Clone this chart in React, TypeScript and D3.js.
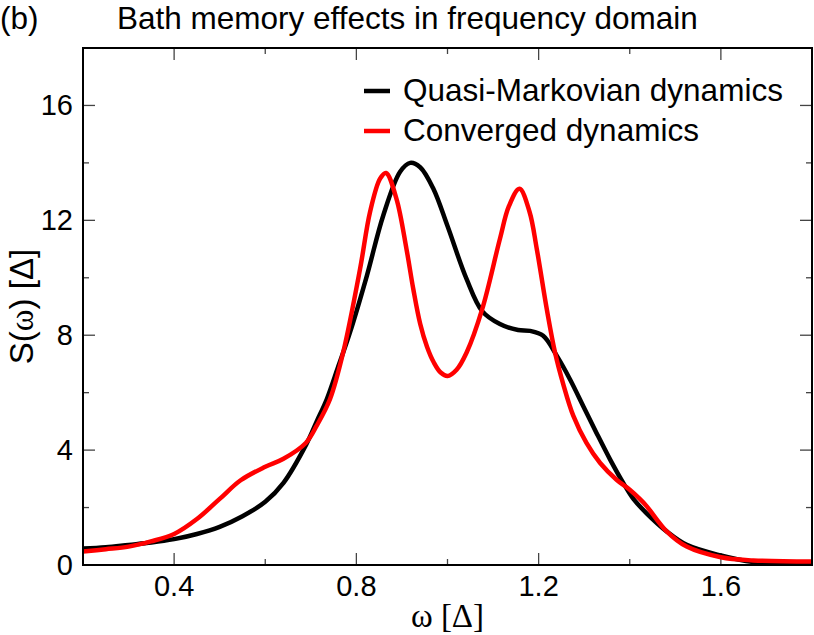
import { useEffect, useRef } from "react";
import * as d3 from "d3";

// omega [Delta], S(omega) [Delta]
const quasiOmega = [0.2, 0.25, 0.3, 0.35, 0.4, 0.45, 0.5, 0.55, 0.6, 0.64, 0.69, 0.713, 0.735, 0.76, 0.786, 0.823, 0.859, 0.896, 0.918, 0.94, 0.969, 1.0, 1.042, 1.076, 1.115, 1.155, 1.181, 1.21, 1.24, 1.269, 1.298, 1.327, 1.357, 1.386, 1.408, 1.437, 1.481, 1.525, 1.6, 1.671, 1.73, 1.8];
const quasiS = [0.57, 0.62, 0.7, 0.78, 0.9, 1.08, 1.33, 1.7, 2.2, 2.86, 4.2, 5.0, 5.77, 6.9, 8.1, 10.07, 12.17, 13.69, 14.0, 13.85, 13.1, 11.8, 9.95, 8.84, 8.39, 8.18, 8.15, 7.98, 7.28, 6.46, 5.53, 4.6, 3.67, 2.85, 2.3, 1.8, 1.17, 0.7, 0.33, 0.1, 0.04, 0.02];

const convOmega = [0.2, 0.25, 0.3, 0.349, 0.4, 0.45, 0.5, 0.546, 0.6, 0.64, 0.689, 0.713, 0.742, 0.771, 0.808, 0.83, 0.852, 0.865, 0.888, 0.91, 0.925, 0.94, 0.955, 0.97, 0.985, 1.0, 1.02, 1.042, 1.076, 1.115, 1.135, 1.158, 1.18, 1.196, 1.218, 1.236, 1.254, 1.276, 1.305, 1.335, 1.371, 1.4, 1.422, 1.437, 1.481, 1.525, 1.6, 1.671, 1.8];
const convS = [0.47, 0.55, 0.64, 0.82, 1.08, 1.6, 2.3, 2.95, 3.42, 3.7, 4.25, 4.85, 5.77, 7.4, 10.3, 12.29, 13.45, 13.65, 12.75, 11.0, 9.6, 8.4, 7.6, 7.05, 6.7, 6.58, 6.8, 7.4, 8.9, 11.35, 12.5, 13.1, 12.3, 11.0, 8.9, 7.4, 6.3, 5.2, 4.25, 3.55, 2.97, 2.62, 2.3, 2.05, 1.17, 0.64, 0.27, 0.16, 0.12];

const xMajor = [0.4, 0.8, 1.2, 1.6];
const xMinor = [0.6, 1.0, 1.4];
const yMajor = [0, 4, 8, 12, 16];
const yMinor = [2, 6, 10, 14];

const seriesNames = ["Quasi-Markovian dynamics", "Converged dynamics"];
const seriesColors = ["#000000", "#ff0000"];

const W = 814;
const H = 635;

export default function App() {
  const ref = useRef<SVGSVGElement | null>(null);

  useEffect(() => {
    if (!ref.current) return;
    const svg = d3.select(ref.current);
    svg.selectAll("*").remove();

    const m = { t: 48, r: 2, b: 70, l: 83 };
    const x = d3.scaleLinear().domain([0.2, 1.8]).range([m.l, W - m.r]);
    const y = d3.scaleLinear().domain([0, 18]).range([H - m.b, m.t]);
    const font = "'Liberation Sans', Arial, Helvetica, sans-serif";
    const serif = "'Liberation Serif', 'Times New Roman', serif";

    const x0 = x.range()[0], x1 = x.range()[1];
    const y0 = y.range()[0], y1 = y.range()[1];

    // ticks on all four sides, pointing inward
    const ticks = svg.append("g").attr("stroke", "#444").attr("stroke-width", 1.3);
    const xt = [...xMajor.map((v) => ({ v, len: 12 })), ...xMinor.map((v) => ({ v, len: 6 }))];
    xt.forEach((t) => {
      ticks.append("line").attr("x1", x(t.v)).attr("x2", x(t.v)).attr("y1", y0).attr("y2", y0 - t.len);
      ticks.append("line").attr("x1", x(t.v)).attr("x2", x(t.v)).attr("y1", y1).attr("y2", y1 + t.len);
    });
    const yt = [...yMajor.map((v) => ({ v, len: 12 })), ...yMinor.map((v) => ({ v, len: 6 }))];
    yt.forEach((t) => {
      ticks.append("line").attr("y1", y(t.v)).attr("y2", y(t.v)).attr("x1", x0).attr("x2", x0 + t.len);
      ticks.append("line").attr("y1", y(t.v)).attr("y2", y(t.v)).attr("x1", x1).attr("x2", x1 - t.len);
    });

    const line = (xs: number[], ys: number[]) =>
      d3
        .line<number>()
        .x((i) => x(xs[i]))
        .y((i) => y(ys[i]))
        .curve(d3.curveCatmullRom.alpha(0.5))(d3.range(xs.length));

    const clip = svg.append("defs").append("clipPath").attr("id", "plot-clip");
    clip.append("rect").attr("x", x0).attr("y", y1).attr("width", x1 - x0).attr("height", y0 - y1);

    const plot = svg.append("g").attr("clip-path", "url(#plot-clip)");
    plot.append("path").attr("d", line(quasiOmega, quasiS)).attr("fill", "none")
      .attr("stroke", seriesColors[0]).attr("stroke-width", 4.5).attr("stroke-linejoin", "round");
    plot.append("path").attr("d", line(convOmega, convS)).attr("fill", "none")
      .attr("stroke", seriesColors[1]).attr("stroke-width", 4.5).attr("stroke-linejoin", "round");

    // frame
    svg.append("rect").attr("x", x0).attr("y", y1).attr("width", x1 - x0).attr("height", y0 - y1)
      .attr("fill", "none").attr("stroke", "#000").attr("stroke-width", 2);

    // tick labels
    xMajor.forEach((v) => {
      svg.append("text").attr("x", x(v)).attr("y", y0 + 31).attr("text-anchor", "middle")
        .attr("font-family", font).attr("font-size", 29).text(d3.format(".1f")(v));
    });
    yMajor.forEach((v) => {
      svg.append("text").attr("x", x0 - 10).attr("y", y(v) + 10).attr("text-anchor", "end")
        .attr("font-family", font).attr("font-size", 29).text(String(v));
    });

    // axis labels
    svg.append("text").attr("x", (x0 + x1) / 2).attr("y", H - 8).attr("text-anchor", "middle")
      .attr("font-family", serif).attr("font-size", 33).text("ω [Δ]");
    const yl = svg.append("text").attr("transform", `translate(33,${(y0 + y1) / 2}) rotate(-90)`)
      .attr("text-anchor", "middle").attr("font-family", font).attr("font-size", 33);
    yl.append("tspan").text("S(");
    yl.append("tspan").attr("font-family", serif).text("ω");
    yl.append("tspan").text(") [Δ]");

    // title
    svg.append("text").attr("x", 0).attr("y", 29).attr("font-family", font).attr("font-size", 31.5).text("(b)");
    svg.append("text").attr("x", 117).attr("y", 29).attr("font-family", font).attr("font-size", 31.5)
      .text("Bath memory effects in frequency domain");

    // legend
    seriesNames.forEach((name, i) => {
      const ly = 91 + i * 40;
      svg.append("line").attr("x1", 364).attr("x2", 390).attr("y1", ly).attr("y2", ly)
        .attr("stroke", seriesColors[i]).attr("stroke-width", 4.5);
      svg.append("text").attr("x", 403).attr("y", ly + 10).attr("font-family", font).attr("font-size", 31.5)
        .text(name);
    });
  }, []);

  return (
    <svg ref={ref} width={W} height={H} style={{ position: "absolute", left: 0, top: 0, background: "#fff" }} />
  );
}
